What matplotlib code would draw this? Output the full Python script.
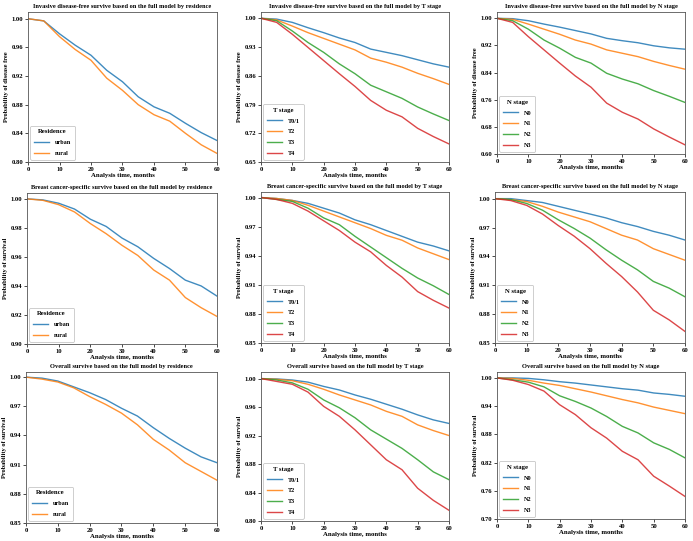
import numpy as np
import matplotlib
matplotlib.use('Agg')
import matplotlib.pyplot as plt

plt.rcParams['font.family'] = ['Liberation Serif', 'DejaVu Serif']
plt.rcParams['font.weight'] = 'bold'

months = [0, 5, 10, 15, 20, 25, 30, 35, 40, 45, 50, 55, 60]

# Invasive disease-free survival
idfs_urban = [1.00, 0.997, 0.979, 0.963, 0.949, 0.928, 0.912, 0.891, 0.877, 0.868, 0.854, 0.841, 0.830]
idfs_rural = [1.00, 0.997, 0.975, 0.957, 0.942, 0.917, 0.900, 0.880, 0.866, 0.857, 0.840, 0.824, 0.812]
idfs_t01 = [1.00, 0.998, 0.990, 0.977, 0.965, 0.952, 0.941, 0.925, 0.917, 0.909, 0.899, 0.889, 0.881]
idfs_t2 = [1.00, 0.996, 0.981, 0.965, 0.951, 0.937, 0.923, 0.903, 0.893, 0.881, 0.866, 0.853, 0.839]
idfs_t3 = [1.00, 0.994, 0.969, 0.941, 0.917, 0.889, 0.865, 0.837, 0.821, 0.805, 0.784, 0.767, 0.751]
idfs_t4 = [1.00, 0.990, 0.961, 0.929, 0.897, 0.865, 0.834, 0.800, 0.776, 0.760, 0.732, 0.712, 0.694]
idfs_n0 = [1.00, 0.999, 0.993, 0.983, 0.974, 0.964, 0.954, 0.941, 0.934, 0.928, 0.919, 0.913, 0.909]
idfs_n1 = [1.00, 0.997, 0.983, 0.968, 0.953, 0.936, 0.924, 0.907, 0.897, 0.887, 0.873, 0.861, 0.850]
idfs_n2 = [1.00, 0.993, 0.968, 0.936, 0.912, 0.885, 0.868, 0.838, 0.821, 0.807, 0.787, 0.770, 0.752]
idfs_n3 = [1.00, 0.988, 0.946, 0.907, 0.868, 0.830, 0.797, 0.750, 0.723, 0.703, 0.674, 0.650, 0.627]

# Breast cancer-specific survival
bcss_urban = [1.00, 0.9993, 0.997, 0.993, 0.986, 0.981, 0.973, 0.967, 0.959, 0.952, 0.944, 0.940, 0.933]
bcss_rural = [1.00, 0.999, 0.996, 0.991, 0.983, 0.976, 0.968, 0.961, 0.951, 0.944, 0.932, 0.925, 0.919]
bcss_t01 = [1.00, 0.999, 0.997, 0.994, 0.989, 0.984, 0.977, 0.972, 0.966, 0.960, 0.954, 0.950, 0.945]
bcss_t2 = [1.00, 0.999, 0.997, 0.992, 0.986, 0.980, 0.974, 0.968, 0.961, 0.956, 0.948, 0.942, 0.936]
bcss_t3 = [1.00, 0.998, 0.996, 0.989, 0.979, 0.972, 0.960, 0.949, 0.938, 0.927, 0.917, 0.909, 0.900]
bcss_t4 = [1.00, 0.998, 0.994, 0.986, 0.976, 0.966, 0.954, 0.944, 0.930, 0.918, 0.903, 0.894, 0.886]
bcss_n0 = [1.00, 1.000, 0.998, 0.996, 0.992, 0.988, 0.984, 0.980, 0.975, 0.971, 0.966, 0.962, 0.957]
bcss_n1 = [1.00, 0.999, 0.997, 0.992, 0.986, 0.981, 0.976, 0.969, 0.962, 0.957, 0.948, 0.942, 0.936]
bcss_n2 = [1.00, 0.999, 0.995, 0.988, 0.978, 0.969, 0.959, 0.947, 0.936, 0.926, 0.914, 0.907, 0.898]
bcss_n3 = [1.00, 0.998, 0.993, 0.984, 0.972, 0.961, 0.948, 0.933, 0.919, 0.903, 0.884, 0.874, 0.862]

# Overall survival
os_urban = [1.00, 0.999, 0.996, 0.990, 0.984, 0.977, 0.968, 0.960, 0.948, 0.937, 0.927, 0.918, 0.912]
os_rural = [1.00, 0.998, 0.995, 0.989, 0.980, 0.972, 0.963, 0.951, 0.936, 0.925, 0.912, 0.903, 0.894]
os_t01 = [1.00, 0.9995, 0.998, 0.995, 0.989, 0.984, 0.977, 0.971, 0.964, 0.957, 0.949, 0.942, 0.937]
os_t2 = [1.00, 0.999, 0.997, 0.992, 0.985, 0.977, 0.970, 0.963, 0.954, 0.947, 0.935, 0.927, 0.920]
os_t3 = [1.00, 0.998, 0.994, 0.985, 0.970, 0.959, 0.945, 0.928, 0.915, 0.902, 0.886, 0.869, 0.858]
os_t4 = [1.00, 0.996, 0.992, 0.981, 0.961, 0.947, 0.928, 0.907, 0.886, 0.872, 0.846, 0.829, 0.815]
os_n0 = [1.00, 1.000, 0.999, 0.996, 0.992, 0.989, 0.985, 0.981, 0.977, 0.974, 0.968, 0.965, 0.961]
os_n1 = [1.00, 0.999, 0.995, 0.989, 0.984, 0.977, 0.970, 0.962, 0.954, 0.947, 0.938, 0.931, 0.924]
os_n2 = [1.00, 0.996, 0.991, 0.981, 0.962, 0.950, 0.936, 0.918, 0.897, 0.883, 0.862, 0.848, 0.830]
os_n3 = [1.00, 0.995, 0.986, 0.972, 0.943, 0.922, 0.894, 0.872, 0.844, 0.826, 0.791, 0.770, 0.748]

res_labels = ['urban', 'rural']
t_labels = ['T0/1', 'T2', 'T3', 'T4']
n_labels = ['N0', 'N1', 'N2', 'N3']

colors = ['#1f77b4', '#ff7f0e', '#2ca02c', '#d62728']

# panel settings: title, ylabel, legend title, labels, curves, y bottom, y step, axes box in pixels (l, t, r, b)
panels = [
    ("Invasive disease-free survive based on the full model by residence", "Probability of disease free",
     "Residence", res_labels, [idfs_urban, idfs_rural], 0.80, 0.04, (28, 12, 217, 162)),
    ("Invasive disease-free survive based on the full model by T stage", "Probability of disease free",
     "T stage", t_labels, [idfs_t01, idfs_t2, idfs_t3, idfs_t4], 0.65, 0.07, (261, 12, 449, 162)),
    ("Invasive disease-free survive based on the full model by N stage", "Probability of disease free",
     "N stage", n_labels, [idfs_n0, idfs_n1, idfs_n2, idfs_n3], 0.60, 0.08, (497, 12, 685, 154)),
    ("Breast cancer-specific survive based on the full model by residence", "Probability of survival",
     "Residence", res_labels, [bcss_urban, bcss_rural], 0.90, 0.02, (27, 193, 217, 344)),
    ("Breast cancer-specific survive based on the full model by T stage", "Probability of survival",
     "T stage", t_labels, [bcss_t01, bcss_t2, bcss_t3, bcss_t4], 0.85, 0.03, (261, 192, 449, 343)),
    ("Breast cancer-specific survive based on the full model by N stage", "Probability of survival",
     "N stage", n_labels, [bcss_n0, bcss_n1, bcss_n2, bcss_n3], 0.85, 0.03, (495, 192, 685, 343)),
    ("Overall survive based on the full model by residence", "Probability of survival",
     "Residence", res_labels, [os_urban, os_rural], 0.85, 0.03, (26, 372, 217, 523)),
    ("Overall survive based on the full model by T stage", "Probability of survival",
     "T stage", t_labels, [os_t01, os_t2, os_t3, os_t4], 0.80, 0.04, (261, 372, 449, 521)),
    ("Overall survive based on the full model by N stage", "Probability of survival",
     "N stage", n_labels, [os_n0, os_n1, os_n2, os_n3], 0.70, 0.06, (497, 372, 685, 519)),
]

W, H = 693, 541
fig = plt.figure(figsize=(W / 100, H / 100), dpi=100)

for title, ylab, legtitle, labs, curves, ylow, ystep, box in panels:
    l, t, r, b = box
    ax = fig.add_axes([l / W, 1 - b / H, (r - l) / W, (b - t) / H])

    for i, vals in enumerate(curves):
        ax.plot(months, vals, color=colors[i], lw=1.0, alpha=0.85, label=labs[i])

    ax.set_xlim(0, 60)
    ax.set_ylim(bottom=ylow)
    ax.set_xticks([0, 10, 20, 30, 40, 50, 60])
    ax.set_yticks(np.round(np.arange(ylow, 1.0001, ystep), 2))
    ax.yaxis.set_major_formatter(matplotlib.ticker.FormatStrFormatter('%.2f'))
    ax.tick_params(labelsize=4.8, length=2, width=0.5, pad=1.5)

    ax.set_title(title, fontsize=4.6, fontweight='bold', pad=3)
    ax.set_xlabel('Analysis time, months', fontsize=4.9, fontweight='bold', labelpad=1)
    ax.set_ylabel(ylab, fontsize=4.6, fontweight='bold', labelpad=2)

    for sp in ax.spines.values():
        sp.set_linewidth(0.6)
        sp.set_color('#555555')

    leg = ax.legend(title=legtitle, loc='lower left', fontsize=4.4, title_fontsize=4.8,
                    handlelength=2.5, handletextpad=0.9, borderpad=0.6, labelspacing=0.9,
                    borderaxespad=0.4, fancybox=True, framealpha=1, edgecolor='#bbbbbb')
    leg.get_frame().set_linewidth(0.5)
    leg.get_title().set_fontweight('bold')
    for line in leg.get_lines():
        line.set_linewidth(1.0)

fig.savefig('out.png', dpi=100)
